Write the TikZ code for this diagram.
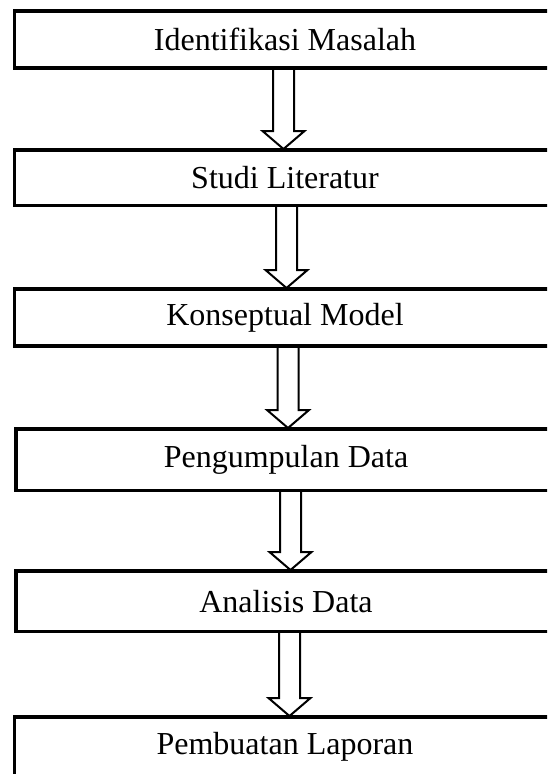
\documentclass[tikz,border=0pt]{standalone}
\usepackage{fontspec}
\setmainfont{Liberation Serif}
\usetikzlibrary{calc}
\tikzset{
  stepbox/.style={draw=black, line width=3.2pt, outer sep=0pt, inner sep=0pt,
    minimum width=541pt, font=\fontsize{32}{38}\selectfont},
  blockarr/.style={draw=black, line width=2pt, line join=miter},
}
\newcommand\lowtext[2][-3.5pt]{\raisebox{#1}{#2}}
\newcommand\flowarrow[3]{%
  \draw[blockarr] let \p1=($(#1.south)+(#3,0)$), \p2=(#2.north) in
    (\x1-10.5pt,\y1) -- (\x1-10.5pt,\y2+19pt) -- (\x1-21pt,\y2+19pt) -- (\x1,\y2+1pt)
    -- (\x1+21pt,\y2+19pt) -- (\x1+10.5pt,\y2+19pt) -- (\x1+10.5pt,\y1);
}
\begin{document}
\begin{tikzpicture}[x=1pt,y=-1pt]
\useasboundingbox (0,0) rectangle (547,774);
\fill[white] (0,0) rectangle (547,774);
\clip (0,0) rectangle (547,774);
\node[stepbox, minimum height=57pt] (b1) at (285,39.5) {\lowtext{Identifikasi Masalah}};
\node[stepbox, minimum height=55.5pt] (b2) at (285,177.75) {\lowtext[-4.5pt]{Studi Literatur}};
\node[stepbox, minimum height=57pt] (b3) at (285,317.5) {\lowtext[-5pt]{Konseptual Model}};
\node[stepbox, minimum height=61.5pt, minimum width=540pt] (b4) at (286,459.75) {\lowtext{Pengumpulan Data}};
\node[stepbox, minimum height=60.5pt, minimum width=540pt] (b5) at (286,601.25) {\lowtext[-3pt]{Analisis Data}};
\node[stepbox, minimum height=60pt] (b6) at (285,747) {\lowtext[-3pt]{Pembuatan Laporan}};
\flowarrow{b1}{b2}{-1.5}
\flowarrow{b2}{b3}{1.5}
\flowarrow{b3}{b4}{3}
\flowarrow{b4}{b5}{4.5}
\flowarrow{b5}{b6}{3.5}
\end{tikzpicture}
\end{document}
